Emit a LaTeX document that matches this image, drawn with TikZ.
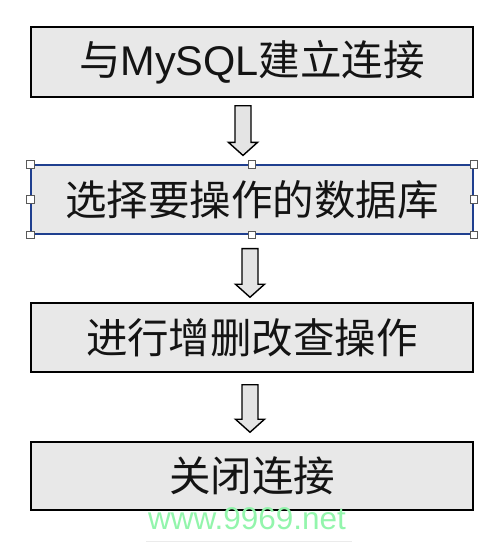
\documentclass[tikz,border=0pt]{standalone}
\usepackage{fontspec}
\setmainfont{Noto Sans CJK SC}
\newfontfamily\wmfont{Liberation Sans}
\usetikzlibrary{calc}
\definecolor{boxgray}{HTML}{E8E8E8}
\definecolor{arrowgray}{HTML}{E4E4E4}
\definecolor{selblue}{HTML}{1F3F8F}
\definecolor{wmgreen}{HTML}{93F5AC}
\tikzset{
  stepbox/.style={draw=black, line width=1.5pt, fill=boxgray, minimum width=442pt,
    minimum height=70pt, inner sep=0pt, text=black!92,
    font=\fontsize{41.5}{45}\selectfont},
  selbox/.style={stepbox, draw=selblue, line width=1.2pt},
  hollow/.style={draw=black, fill=arrowgray, line width=1.4pt, line join=miter},
  handle/.style={draw=black!65, fill=white, line width=0.7pt, minimum size=7.5pt,
    inner sep=0pt, rectangle},
}
\newcommand\hollowarrow[5]{%
  \draw[hollow] let \p1=($(#1.south)+(#3,#4)$), \p2=($(#2.north)+(#3,-#5)$) in
    (\x1-8pt,\y1) -- (\x1+8pt,\y1) -- (\x1+8pt,\y2+13pt) -- (\x1+14.5pt,\y2+13pt)
    -- (\x2,\y2) -- (\x1-14.5pt,\y2+13pt) -- (\x1-8pt,\y2+13pt) -- cycle;}
\begin{document}
\begin{tikzpicture}[x=1pt,y=-1pt]
\useasboundingbox (0,0) rectangle (500,542);
\node[stepbox] (b1) at (252,62) {与{\wmfont MySQL}建立连接};
\node[selbox, minimum height=69pt] (b2) at (252,199.5) {选择要操作的数据库};
\node[stepbox, minimum height=69pt] (b3) at (252,337.5) {进行增删改查操作};
\node[stepbox, minimum height=68pt] (b4) at (252,476) {关闭连接};
\hollowarrow{b1}{b2}{-9}{8}{9}
\hollowarrow{b2}{b3}{-2}{14}{5}
\hollowarrow{b3}{b4}{-2}{12}{9}
\foreach \a [count=\i] in {north west, north, north east, east, south east, south, south west, west}
  \node[handle] (h\i) at (b2.\a) {};
\node[anchor=base, text=wmgreen, font=\wmfont\fontsize{31.5}{34}\selectfont, inner sep=0pt]
  (wm) at (247,529) {www.9969.net};
\coordinate (ul) at (146,541.5);
\coordinate (ur) at (352,541.5);
\draw[black!8, line width=0.8pt] (ul) -- (ur);
\end{tikzpicture}
\end{document}
